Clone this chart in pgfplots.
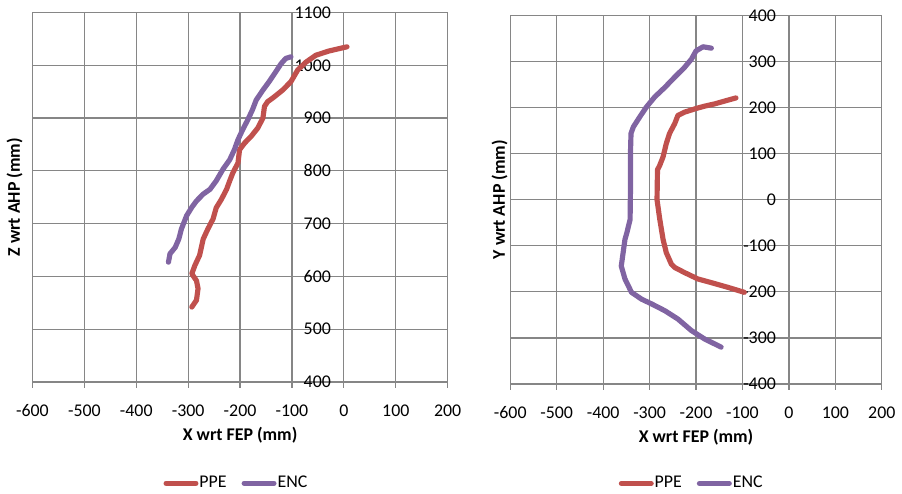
\documentclass[border=0pt]{standalone}
\usepackage{fontspec}
\setmainfont{Carlito}
\usepackage{pgfplots}
\pgfplotsset{compat=1.18}
\definecolor{ppe}{RGB}{192,80,77}
\definecolor{enc}{RGB}{128,100,162}
\definecolor{gridc}{RGB}{134,134,134}

\pgfplotsset{
  excel/.style={
    scale only axis,
    axis x line=bottom, axis y line=middle,
    hide obscured x ticks=false, hide obscured y ticks=false,
    xmin=-600, xmax=200, xtick={-600,-500,...,200},
    grid=major, grid style={gridc, line width=0.6pt},
    axis line style={gridc, line width=0.6pt, -},
    tick style={gridc, line width=0.6pt}, tick align=outside,
    major tick length=3pt,
    font=\fontsize{9}{10.8}\selectfont,
    /pgf/number format/assume math mode=true,
    /pgf/number format/1000 sep={},
    xticklabel style={yshift=-5pt},
    yticklabel style={anchor=east},
    every axis x label/.style={at={(axis description cs:0.5,-0.145)}, anchor=center},
    legend columns=2,
    legend style={draw=none, fill=none, font=\fontsize{9}{10.8}\selectfont,
      inner sep=0pt,
      nodes={inner sep=0.5pt},
      /tikz/every even column/.append style={column sep=7pt}},
    legend image code/.code={\draw[#1] (0pt,0pt) -- (15pt,0pt);},
    every axis plot/.append style={line width=2.6pt, line join=round, line cap=round},
  }
}

\begin{document}
\begin{tikzpicture}
\path (0,0) rectangle (451pt,-248pt);

\begin{axis}[excel,
  at={(16pt,-192pt)}, anchor=south west,
  width=209pt, height=186pt,
  ymin=400, ymax=1100, ytick={400,500,...,1100},
  xlabel={\textbf{X wrt FEP (mm)}},
  ylabel={\textbf{Z wrt AHP (mm)}},
  every axis y label/.style={at={(axis description cs:-0.043,0.5)}, rotate=90, anchor=center},
  legend style={at={(axis description cs:0.49,-0.274)}, anchor=center},
]
\addplot[ppe] coordinates {
(6,1035) (-29,1027) (-54,1019) (-73,1006) (-89,991) (-102,969) (-118,953)
(-137,938) (-147,931) (-153,922) (-156,900) (-166,881) (-179,865) (-191,853)
(-201,840) (-204,815) (-214,796) (-220,781) (-226,765) (-236,746) (-246,730)
(-252,709) (-262,690) (-271,671) (-278,640) (-287,621) (-293,605) (-284,592)
(-281,577) (-284,555) (-293,542)
};
\addlegendentry{PPE}
\addplot[enc] coordinates {
(-102,1016) (-112,1013) (-121,1003) (-131,988) (-144,969) (-156,953) (-169,934)
(-176,916) (-185,897) (-195,878) (-204,859) (-211,840) (-220,821) (-233,803)
(-246,781) (-258,765) (-271,756) (-284,743) (-293,731) (-303,715) (-313,690)
(-318,671) (-325,655) (-335,643) (-338,627)
};
\addlegendentry{ENC}
\end{axis}

\begin{axis}[excel,
  at={(256.5pt,-193pt)}, anchor=south west,
  width=187pt, height=185.5pt,
  ymin=-400, ymax=400, ytick={-400,-300,...,400},
  xlabel={\textbf{X wrt FEP (mm)}},
  ylabel={\textbf{Y wrt AHP (mm)}},
  every axis y label/.style={at={(axis description cs:-0.029,0.5)}, rotate=90, anchor=center},
  legend style={at={(axis description cs:0.487,-0.27)}, anchor=center},
]
\addplot[ppe] coordinates {
(-114,221) (-132,216) (-160,208) (-182,203) (-200,198) (-225,190) (-239,183)
(-246,165) (-257,144) (-264,122) (-271,93) (-278,75) (-283,65) (-284,0)
(-278,-43) (-271,-86) (-264,-115) (-253,-140) (-246,-147) (-225,-158)
(-196,-172) (-167,-180) (-132,-190) (-96,-201)
};
\addlegendentry{PPE}
\addplot[enc] coordinates {
(-167,329) (-185,332) (-200,323) (-210,305) (-225,287) (-246,266) (-267,244)
(-289,223) (-307,201) (-321,180) (-335,158) (-340,144) (-341,108) (-341,36)
(-342,-43) (-349,-72) (-353,-86) (-357,-115) (-361,-144) (-353,-172)
(-339,-201) (-317,-216) (-296,-226) (-267,-241) (-239,-259) (-210,-284)
(-182,-302) (-146,-320)
};
\addlegendentry{ENC}
\end{axis}
\end{tikzpicture}
\end{document}
